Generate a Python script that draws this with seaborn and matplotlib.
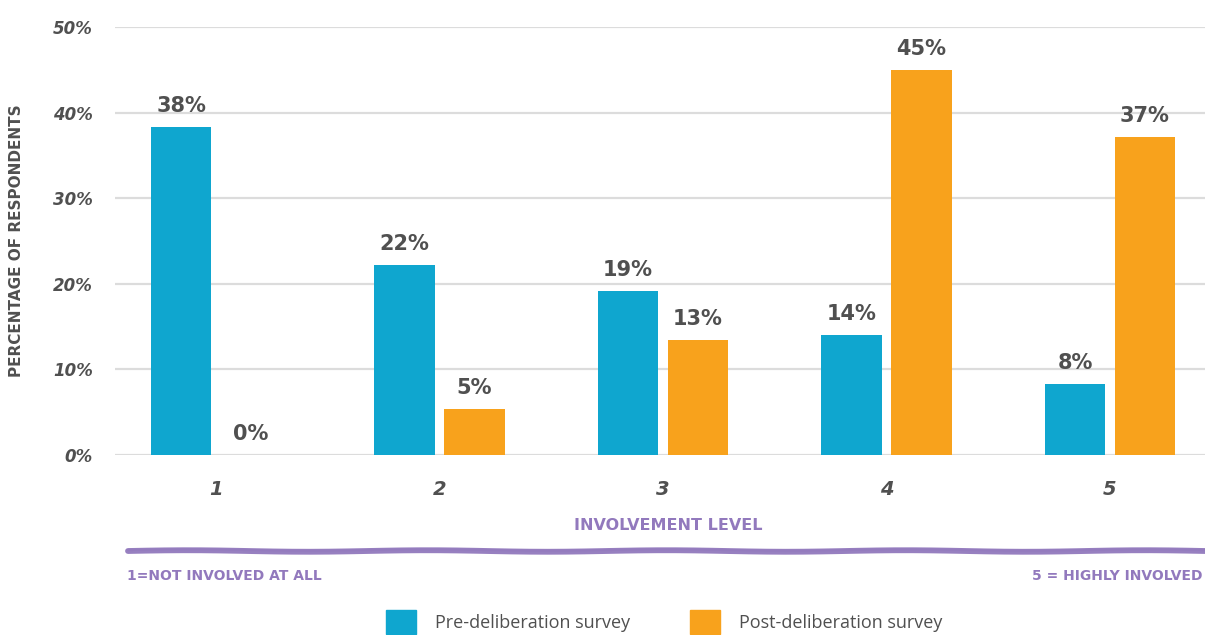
import numpy as np
import pandas as pd
import matplotlib
matplotlib.use("Agg")
import matplotlib.pyplot as plt
from matplotlib.lines import Line2D
import seaborn as sns

# Survey results: share of respondents at each involvement level
levels = ["1", "2", "3", "4", "5"]
pre_values = [38.3, 22.2, 19.2, 14.0, 8.3]
post_values = [0.0, 5.4, 13.4, 45.0, 37.1]
series_names = ["Pre-deliberation survey", "Post-deliberation survey"]
y_ticks = [0, 10, 20, 30, 40, 50]

BLUE = "#0FA6CF"
ORANGE = "#F8A21C"
PURPLE = "#9279BD"
GREY = "#505050"

df = pd.DataFrame({
    "level": levels * 2,
    "value": pre_values + post_values,
    "survey": [series_names[0]] * len(levels) + [series_names[1]] * len(levels),
})

sns.set_theme(style="white")
plt.rcParams["font.family"] = ["DejaVu Sans"]

fig = plt.figure(figsize=(12.05, 6.35), dpi=100)
ax = fig.add_axes([0.0954, 0.2835, 0.9046, 0.674])

sns.barplot(data=df, x="level", y="value", hue="survey", order=levels,
            hue_order=series_names, palette=[BLUE, ORANGE],
            width=0.626, gap=0.135, saturation=1, legend=False,
            linewidth=0, ax=ax)

ax.set_ylim(0, 50)
ax.set_xlim(-0.452, 4.425)
ax.set_yticks(y_ticks)
ax.set_yticklabels([f"{t}%" for t in y_ticks])
ax.yaxis.grid(True, color="#dcdcdc", linewidth=1.6)
ax.set_axisbelow(True)
for s in ax.spines.values():
    s.set_visible(False)
ax.tick_params(axis="both", length=0)
ax.tick_params(axis="y", pad=16, labelsize=12, labelcolor=GREY)
ax.tick_params(axis="x", pad=18, labelsize=14, labelcolor=GREY)
for lab in ax.get_xticklabels() + ax.get_yticklabels():
    lab.set_fontweight("bold")
    lab.set_fontstyle("italic")

ax.set_xlabel("")
ax.set_ylabel("PERCENTAGE OF RESPONDENTS", fontsize=11, fontweight="bold",
              color=GREY, labelpad=18)
ax.yaxis.set_label_coords(-0.083, 0.5)

# Value labels above every bar
for container in ax.containers:
    ax.bar_label(container, labels=[f"{v:.0f}%" for v in container.datavalues],
                 padding=8, fontsize=15, fontweight="bold", color=GREY)

# Scale caption under the axis
fig.text(0.5545, 1 - 525 / 635, "INVOLVEMENT LEVEL", ha="center", va="center",
         fontsize=11.5, fontweight="bold", color=PURPLE)

# Hand-drawn style rule
xs = np.linspace(128 / 1205, 1.0, 60)
wob = 0.0012 * np.sin(np.linspace(0, 9 * np.pi, 60))
ys = 1 - 551 / 635 + wob
fig.add_artist(Line2D(xs, ys, color=PURPLE, linewidth=4.2, alpha=0.95,
                      solid_capstyle="round", transform=fig.transFigure))
fig.add_artist(Line2D(xs, ys + 0.0015, color=PURPLE, linewidth=1.5, alpha=0.6,
                      transform=fig.transFigure))

fig.text(127 / 1205, 1 - 576 / 635, "1=NOT INVOLVED AT ALL", ha="left",
         va="center", fontsize=10, fontweight="bold", color=PURPLE)
fig.text(1203 / 1205, 1 - 576 / 635, "5 = HIGHLY INVOLVED", ha="right",
         va="center", fontsize=10, fontweight="bold", color=PURPLE)

# Legend
handles = [plt.Rectangle((0, 0), 1, 1, color=BLUE),
           plt.Rectangle((0, 0), 1, 1, color=ORANGE)]
fig.legend(handles, series_names, loc="center", bbox_to_anchor=(0.551, 0.02),
           ncol=2, frameon=False, prop={"family": "Open Sans", "size": 13},
           labelcolor=GREY, handlelength=1.66, handleheight=1.66,
           handletextpad=1.05, columnspacing=3.3)

fig.savefig("out.png", dpi=100)
